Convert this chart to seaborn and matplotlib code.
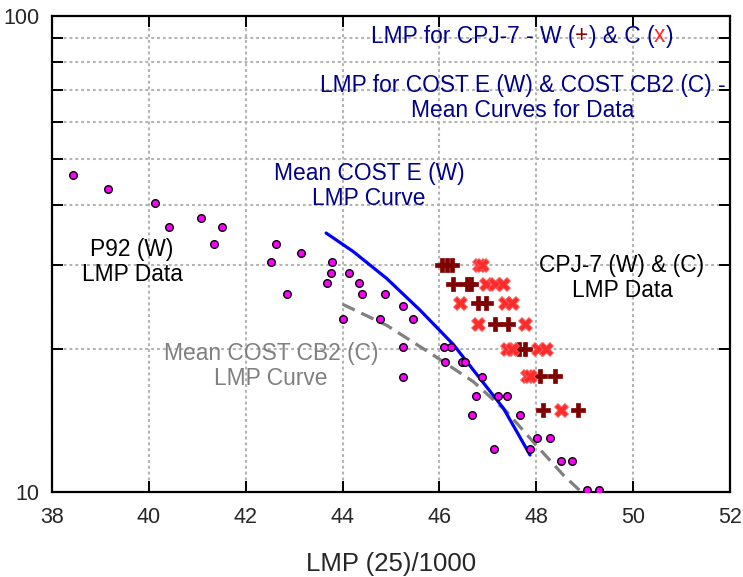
import matplotlib
matplotlib.use("Agg")
import matplotlib.pyplot as plt
import seaborn as sns
import pandas as pd
from matplotlib.ticker import FixedLocator, FixedFormatter, LogLocator, NullFormatter, NullLocator
from matplotlib.offsetbox import TextArea, HPacker, AnnotationBbox

# ---------------- data ----------------
p92_x = [38.43, 39.15, 40.13, 40.41, 41.08, 41.50, 41.34, 42.62, 42.52, 43.14,
         43.79, 43.76, 44.13, 43.68, 44.33, 42.86, 44.40, 44.87, 44.00, 44.77,
         45.24, 45.46, 45.25, 45.25, 46.10, 46.24, 46.12, 46.47, 46.53, 46.87,
         46.75, 47.21, 47.40, 46.67, 47.67, 47.12, 47.87, 48.01, 48.28, 48.52,
         48.74, 49.04, 49.30]
p92_y = [46.3, 43.4, 40.5, 36.1, 37.6, 36.1, 33.2, 33.2, 30.4, 31.8,
         30.4, 28.9, 28.9, 27.5, 27.5, 26.1, 26.1, 26.1, 23.1, 23.1,
         24.6, 23.1, 20.2, 17.4, 20.2, 20.2, 18.8, 18.8, 18.8, 17.4,
         15.9, 15.9, 15.9, 14.5, 14.5, 12.3, 12.3, 13.0, 13.0, 11.6,
         11.6, 10.1, 10.1]

cpj_w_x = [46.05, 46.15, 46.26, 46.27, 46.57, 46.66, 46.80, 46.97, 47.15, 47.42,
           47.65, 47.77, 48.08, 48.39, 48.13, 48.87]
cpj_w_y = [30.0, 30.0, 30.0, 27.4, 27.4, 27.4, 25.0, 25.0, 22.5, 22.5,
           20.0, 20.0, 17.5, 17.5, 14.9, 14.9]

cpj_c_x = [46.82, 46.88, 46.97, 47.15, 47.32, 46.43, 47.35, 47.49, 46.80, 47.77,
           47.39, 47.49, 48.04, 48.21, 47.80, 47.87, 48.52]
cpj_c_y = [30.0, 30.0, 27.4, 27.4, 27.4, 25.0, 25.0, 25.0, 22.5, 22.5,
           20.0, 20.0, 20.0, 20.0, 17.5, 17.5, 14.9]

coste_x = [43.66, 44.22, 44.91, 45.60, 46.29, 46.84, 47.32, 47.66, 47.87]
coste_y = [35.0, 32.0, 28.1, 24.1, 20.4, 17.3, 15.0, 13.05, 11.96]

costcb2_x = [44.00, 44.91, 45.87, 46.70, 47.39, 48.01, 48.56, 48.93]
costcb2_y = [24.8, 22.4, 19.4, 17.05, 14.74, 12.5, 10.85, 10.0]

x_ticks = [38, 40, 42, 44, 46, 48, 50, 52]
y_major = [10, 100]
y_major_labels = ["10", "100"]

# ---------------- style ----------------
sns.set_style("ticks")
plt.rcParams["font.family"] = ["Liberation Sans", "DejaVu Sans"]

NAVY = "#00008b"
DARKRED = "#800000"
RED = "#ff2a2a"
GRAY = "#808080"

fig = plt.figure(figsize=(7.43, 5.77), dpi=100)
ax = fig.add_axes([52 / 743, 1 - 492 / 577, (730 - 52) / 743, (492 - 16) / 577])

df_p92 = pd.DataFrame({"x": p92_x, "y": p92_y})
df_w = pd.DataFrame({"x": cpj_w_x, "y": cpj_w_y})
df_c = pd.DataFrame({"x": cpj_c_x, "y": cpj_c_y})
df_e = pd.DataFrame({"x": coste_x, "y": coste_y})
df_cb2 = pd.DataFrame({"x": costcb2_x, "y": costcb2_y})

sns.lineplot(data=df_cb2, x="x", y="y", ax=ax, color=GRAY, lw=2.3, zorder=3)
ax.lines[-1].set_dashes((4.2, 2.3))
sns.lineplot(data=df_e, x="x", y="y", ax=ax, color="#0000ff", lw=2.3, zorder=4)

sns.scatterplot(data=df_p92, x="x", y="y", ax=ax, color="#ff00ff", edgecolor="black",
                linewidth=1.0, s=30, zorder=5)
sns.scatterplot(data=df_w, x="x", y="y", ax=ax, color=DARKRED, marker="P",
                edgecolor=DARKRED, linewidth=0.5, s=100, zorder=6)
sns.scatterplot(data=df_c, x="x", y="y", ax=ax, color=RED, marker="X",
                edgecolor="#ff6060", linewidth=0.6, s=100, zorder=6)

ax.set_xscale("linear")
ax.set_yscale("log")
ax.set_xlim(38, 52)
ax.set_ylim(10, 100)

ax.xaxis.set_major_locator(FixedLocator(x_ticks))
ax.xaxis.set_minor_locator(NullLocator())
ax.yaxis.set_major_locator(FixedLocator(y_major))
ax.yaxis.set_major_formatter(FixedFormatter(y_major_labels))
ax.yaxis.set_minor_locator(LogLocator(base=10, subs=[2, 3, 4, 5, 6, 7, 8, 9]))
ax.yaxis.set_minor_formatter(NullFormatter())

ax.tick_params(which="both", direction="in", top=True, right=True,
               length=8, width=1.4, color="black")
ax.tick_params(axis="x", labelsize=15.5, pad=11)
ax.tick_params(axis="y", labelsize=15.5, pad=9)

grid_kw = dict(color="#b4b4b4", lw=1.5, linestyle=(0, (1.4, 1.4)))
ax.grid(True, which="major", axis="x", **grid_kw)
ax.grid(True, which="minor", axis="y", **grid_kw)
ax.grid(False, which="major", axis="y")
ax.set_axisbelow(True)

for sp in ax.spines.values():
    sp.set_linewidth(1.6)
    sp.set_color("black")

ax.set_xlabel("LMP (25)/1000", fontsize=18.5, labelpad=17)
ax.set_ylabel("")

# ---------------- annotations ----------------
FS = 16.4
def ftext(px, py, s, color):
    fig.text(px / 743, 1 - py / 577, s, color=color, fontsize=FS, ha="center",
             va="center", multialignment="center", linespacing=1.12)

ftext(522.5, 98, "LMP for COST E (W) & COST CB2 (C) -\nMean Curves for Data", NAVY)
ftext(369, 186, "Mean COST E (W)\nLMP Curve", NAVY)
ftext(132, 262, "P92 (W)\nLMP Data", "black")
ftext(622, 278, "CPJ-7 (W) & (C)\nLMP Data", "black")
ftext(271, 366, "Mean COST CB2 (C)\nLMP Curve", GRAY)

parts = [("LMP for CPJ-7 - W (", NAVY), ("+", DARKRED), (") & C (", NAVY),
         ("x", RED), (")", NAVY)]
boxes = [TextArea(t, textprops=dict(color=c, fontsize=FS)) for t, c in parts]
pack = HPacker(children=boxes, align="baseline", pad=0, sep=0)
ab = AnnotationBbox(pack, (522 / 743, 1 - 36 / 577), xycoords="figure fraction",
                    frameon=False, box_alignment=(0.5, 0.5), pad=0)
fig.add_artist(ab)

fig.savefig("out.png", dpi=100)
